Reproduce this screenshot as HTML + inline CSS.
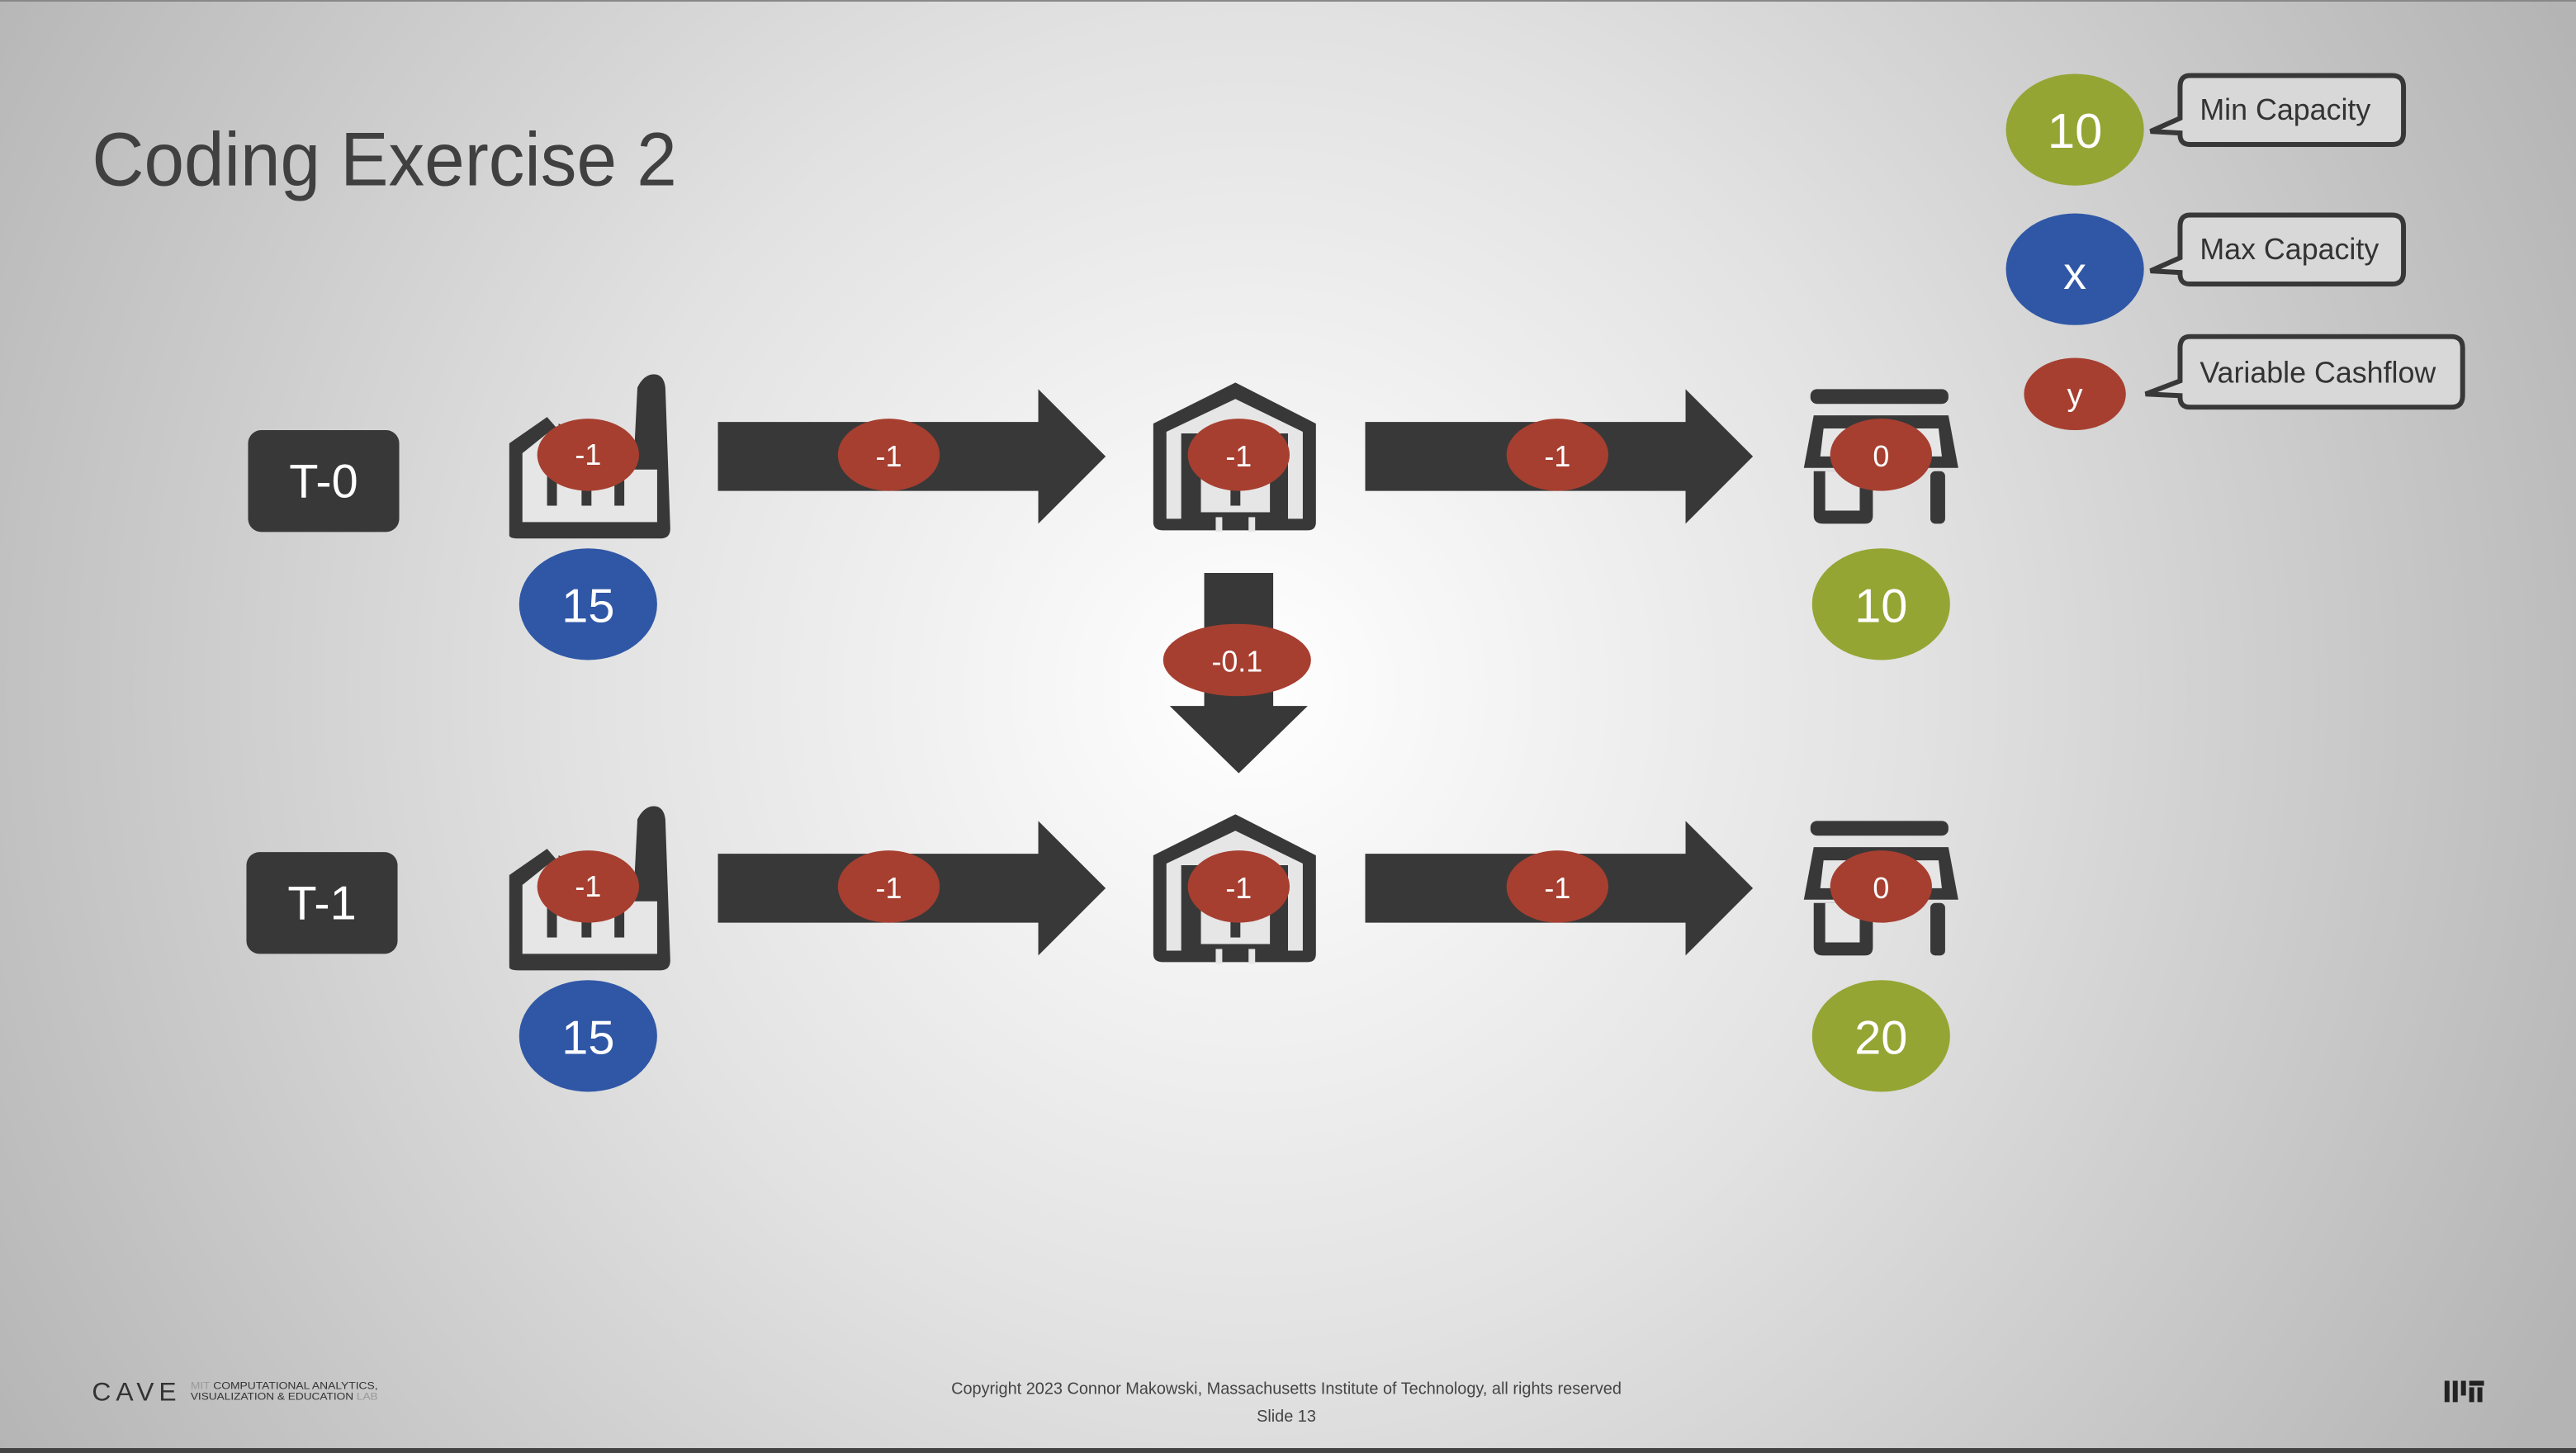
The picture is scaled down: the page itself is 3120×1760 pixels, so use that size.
<!DOCTYPE html>
<html><head><meta charset="utf-8"><style>
html,body{margin:0;padding:0;width:3120px;height:1760px;overflow:hidden}
svg{display:block}
text{font-family:"Liberation Sans",sans-serif}
</style></head><body>
<svg width="3120" height="1760" viewBox="0 0 1568 885" preserveAspectRatio="none" xmlns="http://www.w3.org/2000/svg">
<defs>
<radialGradient id="bg" cx="760" cy="420" r="900" gradientUnits="userSpaceOnUse">
<stop offset="0" stop-color="#ffffff"/><stop offset="0.45" stop-color="#e2e2e2"/><stop offset="1" stop-color="#b4b4b4"/>
</radialGradient>
<g id="factory">
<path d="M310,326 L310,270 L333,254 L340,262 L340,258 L386,276 L388,236 Q392,228 398,228 Q404,228 405,236 L408,322 Q408,328 402,328 L316,328 Q310,328 310,326 Z" fill="#383838"/>
<path d="M318,318 L318,276 L333,264 L333,278 L384,278 L384,286 L400,286 L400,318 Z" fill="#e6e6e6"/>
<rect x="333" y="290" width="6" height="18" fill="#383838"/><rect x="354" y="290" width="6" height="18" fill="#383838"/><rect x="374" y="290" width="6" height="18" fill="#383838"/>
</g>
<g id="warehouse">
<path d="M702,258 L752,233 L801,258 L801,318 Q801,323 796,323 L708,323 Q702,323 702,318 Z" fill="#383838"/>
<path d="M710,263 L752,243 L793,263 L793,316 L784,316 L784,264 L719,264 L719,316 L710,316 Z" fill="#e6e6e6"/>
<rect x="731" y="272" width="42" height="40" fill="#e6e6e6"/>
<rect x="749" y="290" width="6" height="18" fill="#383838"/>
<rect x="740" y="315" width="4" height="9" fill="#e6e6e6"/><rect x="760" y="315" width="4" height="9" fill="#e6e6e6"/>
</g>
<g id="store">
<rect x="1102" y="237" width="84" height="9" rx="4" fill="#383838"/>
<path d="M1104,253 L1186,253 L1192,285 L1098,285 Z" fill="#383838"/>
<path d="M1110,261 L1180,261 L1182,278 L1108,278 Z" fill="#e6e6e6"/>
<path d="M1104,287 L1140,287 L1140,314 Q1140,319 1135,319 L1110,319 Q1104,319 1104,314 Z" fill="#383838"/>
<rect x="1111" y="287" width="21" height="24" fill="#e6e6e6"/>
<rect x="1175" y="287" width="9" height="32" rx="3" fill="#383838"/>
</g>
<g id="arrow"><path d="M0,20 L195,20 L195,0 L236,41 L195,82 L195,62 L0,62 Z" fill="#383838"/></g>
</defs>
<rect width="1568" height="885" fill="url(#bg)"/>
<rect x="0" y="0" width="1568" height="1" fill="#888"/>
<rect x="0" y="882" width="1568" height="3" fill="#444"/>

<text x="56" y="113" font-size="46" fill="#404040" textLength="356" lengthAdjust="spacingAndGlyphs">Coding Exercise 2</text>

<!-- legend -->
<ellipse cx="1263" cy="79" rx="42" ry="34" fill="#94a533"/>
<text x="1263" y="90" font-size="30" fill="#fff" text-anchor="middle">10</text>
<path d="M1333,46 L1456,46 Q1463,46 1463,53 L1463,81 Q1463,88 1456,88 L1333,88 Q1327,88 1327,82 L1327,81 L1309,80 L1327,72 L1327,53 Q1327,46 1333,46 Z" fill="#d8d8d8" stroke="#383838" stroke-width="3"/>
<text x="1339" y="73" font-size="18" fill="#333">Min Capacity</text>
<ellipse cx="1263" cy="164" rx="42" ry="34" fill="#2f57a6"/>
<text x="1263" y="176" font-size="28" fill="#fff" text-anchor="middle">x</text>
<path d="M1333,131 L1456,131 Q1463,131 1463,138 L1463,166 Q1463,173 1456,173 L1333,173 Q1327,173 1327,167 L1327,166 L1309,165 L1327,157 L1327,138 Q1327,131 1333,131 Z" fill="#d8d8d8" stroke="#383838" stroke-width="3"/>
<text x="1339" y="158" font-size="18" fill="#333">Max Capacity</text>
<ellipse cx="1263" cy="240" rx="31" ry="22" fill="#a63f30"/>
<text x="1263" y="247" font-size="19" fill="#fff" text-anchor="middle">y</text>
<path d="M1333,205 L1492,205 Q1499,205 1499,212 L1499,241 Q1499,248 1492,248 L1333,248 Q1327,248 1327,242 L1327,241 L1306,240 L1327,232 L1327,212 Q1327,205 1333,205 Z" fill="#d8d8d8" stroke="#383838" stroke-width="3"/>
<text x="1339" y="233" font-size="18" fill="#333">Variable Cashflow</text>

<!-- Row T-0 -->
<rect x="151" y="262" width="92" height="62" rx="8" fill="#383838"/>
<text x="197" y="303" font-size="29" fill="#fff" text-anchor="middle">T-0</text>
<use href="#factory"/>
<use href="#arrow" transform="translate(437,237)"/>
<use href="#warehouse"/>
<use href="#arrow" transform="translate(831,237)"/>
<use href="#store"/>
<g font-size="18" fill="#fff" text-anchor="middle">
<ellipse cx="358" cy="277" rx="31" ry="22" fill="#a63f30"/><text x="358" y="283">-1</text>
<ellipse cx="541" cy="277" rx="31" ry="22" fill="#a63f30"/><text x="541" y="284">-1</text>
<ellipse cx="754" cy="277" rx="31" ry="22" fill="#a63f30"/><text x="754" y="284">-1</text>
<ellipse cx="948" cy="277" rx="31" ry="22" fill="#a63f30"/><text x="948" y="284">-1</text>
<ellipse cx="1145" cy="277" rx="31" ry="22" fill="#a63f30"/><text x="1145" y="284">0</text>
</g>
<ellipse cx="358" cy="368" rx="42" ry="34" fill="#2f57a6"/>
<text x="358" y="379" font-size="29" fill="#fff" text-anchor="middle">15</text>
<ellipse cx="1145" cy="368" rx="42" ry="34" fill="#94a533"/>
<text x="1145" y="379" font-size="29" fill="#fff" text-anchor="middle">10</text>

<!-- down arrow -->
<path d="M733,349 L775,349 L775,430 L796,430 L754,471 L712,430 L733,430 Z" fill="#383838"/>
<ellipse cx="753" cy="402" rx="45" ry="22" fill="#a63f30"/>
<text x="753" y="409" font-size="18" fill="#fff" text-anchor="middle">-0.1</text>

<!-- Row T-1 -->
<rect x="150" y="519" width="92" height="62" rx="8" fill="#383838"/>
<text x="196" y="560" font-size="29" fill="#fff" text-anchor="middle">T-1</text>
<g transform="translate(0,263)">
<use href="#factory"/>
<use href="#arrow" transform="translate(437,237)"/>
<use href="#warehouse"/>
<use href="#arrow" transform="translate(831,237)"/>
<use href="#store"/>
<g font-size="18" fill="#fff" text-anchor="middle">
<ellipse cx="358" cy="277" rx="31" ry="22" fill="#a63f30"/><text x="358" y="283">-1</text>
<ellipse cx="541" cy="277" rx="31" ry="22" fill="#a63f30"/><text x="541" y="284">-1</text>
<ellipse cx="754" cy="277" rx="31" ry="22" fill="#a63f30"/><text x="754" y="284">-1</text>
<ellipse cx="948" cy="277" rx="31" ry="22" fill="#a63f30"/><text x="948" y="284">-1</text>
<ellipse cx="1145" cy="277" rx="31" ry="22" fill="#a63f30"/><text x="1145" y="284">0</text>
</g>
<ellipse cx="358" cy="368" rx="42" ry="34" fill="#2f57a6"/>
<text x="358" y="379" font-size="29" fill="#fff" text-anchor="middle">15</text>
<ellipse cx="1145" cy="368" rx="42" ry="34" fill="#94a533"/>
<text x="1145" y="379" font-size="29" fill="#fff" text-anchor="middle">20</text>
</g>

<!-- footer -->
<text x="56" y="853" font-size="16" fill="#333" letter-spacing="3">CAVE</text>
<text x="116" y="846" font-size="6" fill="#333" textLength="114" lengthAdjust="spacingAndGlyphs"><tspan fill="#999">MIT </tspan>COMPUTATIONAL ANALYTICS,</text>
<text x="116" y="852.5" font-size="6" fill="#333" textLength="114" lengthAdjust="spacingAndGlyphs">VISUALIZATION &amp; EDUCATION<tspan fill="#999"> LAB</tspan></text>
<text x="783" y="849" font-size="10" fill="#444" text-anchor="middle" textLength="408" lengthAdjust="spacingAndGlyphs">Copyright 2023 Connor Makowski, Massachusetts Institute of Technology, all rights reserved</text>
<text x="783" y="866" font-size="10" fill="#444" text-anchor="middle">Slide 13</text>
<g fill="#222">
<rect x="1488" y="841" width="3" height="13"/><rect x="1493" y="841" width="3" height="13"/><rect x="1498" y="841" width="3" height="9"/><rect x="1503" y="845" width="3" height="9"/><rect x="1503" y="841" width="9" height="3"/><rect x="1508" y="845" width="3" height="9"/>
</g>
</svg>
</body></html>
